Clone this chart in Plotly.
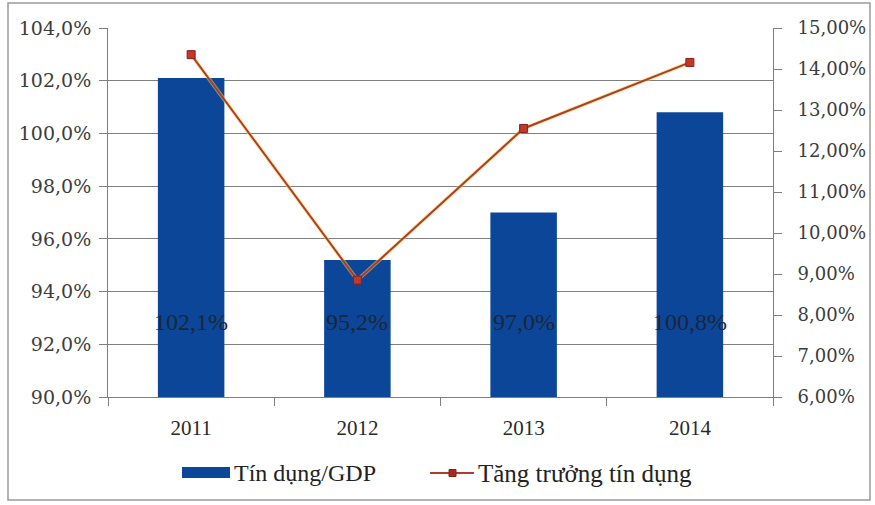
import plotly.graph_objects as go

years = [2011, 2012, 2013, 2014]
credit_to_gdp = [102.1, 95.2, 97.0, 100.8]        # Tín dụng/GDP (%)
credit_growth = [14.35, 8.85, 12.55, 14.16]       # Tăng trưởng tín dụng (%)
bar_labels = ["102,1%", "95,2%", "97,0%", "100,8%"]
series_names = ["Tín dụng/GDP", "Tăng trưởng tín dụng"]

serif = "Liberation Serif"
axis_font = dict(family="DejaVu Serif", size=19, color="#3c3c3c")
grey = "#7f7f7f"
bar_color = "#0b4699"
line_color = "#b23a2a"

fig = go.Figure()

fig.add_trace(go.Bar(
    x=years, y=credit_to_gdp, name=series_names[0],
    marker=dict(color=bar_color, line=dict(width=0)),
    width=0.4, showlegend=False,
))

# soft yellow halo under the growth line
fig.add_trace(go.Scatter(
    x=years, y=credit_growth, yaxis="y2", mode="lines",
    line=dict(color="rgba(235,215,90,0.55)", width=4),
    hoverinfo="skip", showlegend=False,
))
fig.add_trace(go.Scatter(
    x=years, y=credit_growth, name=series_names[1], yaxis="y2",
    mode="lines+markers",
    line=dict(color=line_color, width=2),
    marker=dict(symbol="square", size=8, color="#c0392b",
                line=dict(color="#8a1f1a", width=1)),
    showlegend=False,
))

for yr, txt in zip(years, bar_labels):
    fig.add_annotation(x=yr, y=92.85, xref="x", yref="y", text=txt,
                       showarrow=False,
                       font=dict(family=serif, size=24, color="#1c2638"))

boundaries = [y - 0.5 for y in years] + [years[-1] + 0.5]

fig.update_layout(
    width=875, height=505,
    margin=dict(l=108, r=102, t=28, b=108),
    paper_bgcolor="white", plot_bgcolor="white",
    separators=",.",
    showlegend=False,
    xaxis=dict(
        type="linear", range=[boundaries[0], boundaries[-1]],
        tickvals=years, ticktext=[str(y) for y in years],
        ticks="", showline=True, linecolor=grey, linewidth=1,
        showgrid=False, zeroline=False, automargin=False,
        minor=dict(tickvals=boundaries, ticks="outside", ticklen=8,
                   tickcolor=grey, showgrid=False),
        tickfont=dict(family=serif, size=21, color="#2a2a2a"),
        ticklabelstandoff=12,
    ),
    yaxis=dict(
        range=[90, 104], dtick=2, tickformat=".1f", ticksuffix="%",
        ticks="outside", ticklen=8, tickcolor=grey,
        showline=True, linecolor=grey, linewidth=1,
        showgrid=True, gridcolor=grey, gridwidth=1, automargin=False,
        zeroline=False, tickfont=axis_font, ticklabelstandoff=4,
    ),
    yaxis2=dict(
        range=[6, 15], dtick=1, tickformat=".2f", ticksuffix="%",
        overlaying="y", side="right",
        ticks="outside", ticklen=8, tickcolor=grey,
        showline=True, linecolor=grey, linewidth=1,
        showgrid=False, zeroline=False, automargin=False,
        tickfont=dict(family="DejaVu Serif", size=18, color="#3c3c3c"),
        ticklabelstandoff=12,
    ),
)


def px_x(v):
    return (v - 108) / 665


def px_y(v):
    return (397 - v) / 369


# legend drawn below the plot
legend_y = 473
fig.add_shape(type="rect", xref="paper", yref="paper",
              x0=px_x(182), x1=px_x(230), y0=px_y(478), y1=px_y(467),
              fillcolor=bar_color, line=dict(width=0))
fig.add_annotation(xref="paper", yref="paper", x=px_x(232), y=px_y(legend_y),
                   xanchor="left", yanchor="middle",
                   text=series_names[0], showarrow=False,
                   font=dict(family=serif, size=24, color="#222222"))
fig.add_shape(type="line", xref="paper", yref="paper",
              x0=px_x(430), x1=px_x(474), y0=px_y(legend_y), y1=px_y(legend_y),
              line=dict(color=line_color, width=2))
fig.add_shape(type="rect", xref="paper", yref="paper",
              x0=px_x(449), x1=px_x(456),
              y0=px_y(legend_y + 3.5), y1=px_y(legend_y - 3.5),
              fillcolor="#a52a22", line=dict(color="#8a1f1a", width=1))
fig.add_annotation(xref="paper", yref="paper", x=px_x(476), y=px_y(legend_y),
                   xanchor="left", yanchor="middle",
                   text=series_names[1], showarrow=False,
                   font=dict(family=serif, size=25, color="#222222"))

# outer chart frame
fig.add_shape(type="rect", xref="paper", yref="paper",
              x0=px_x(8), x1=px_x(870), y0=px_y(500), y1=px_y(3),
              line=dict(color="#9a9a9a", width=1.5), layer="below")

fig.write_html("out.html")
